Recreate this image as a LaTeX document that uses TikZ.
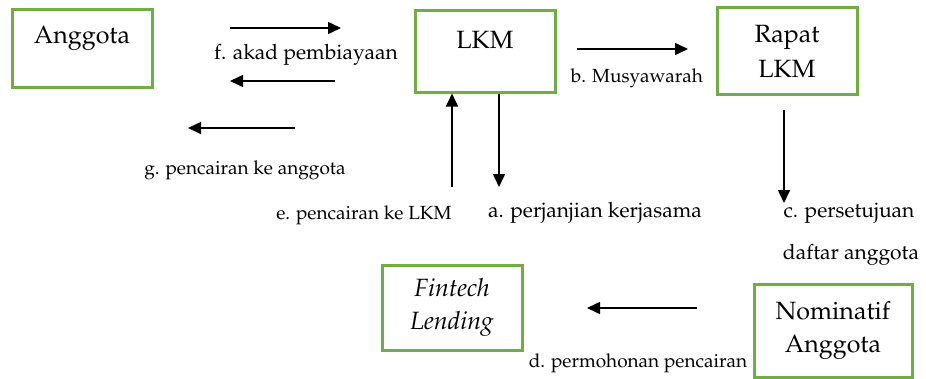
\documentclass[tikz,border=0pt]{standalone}
\usepackage[T1]{fontenc}
\usepackage{mathpazo}
\usetikzlibrary{arrows.meta}
\definecolor{boxgreen}{RGB}{112,173,71}
\tikzset{
  box/.style={draw=boxgreen, line width=3pt, rectangle, inner sep=0pt},
  boxtext/.style={font=\fontsize{25}{33}\selectfont, inner sep=0pt, align=center},
  lab/.style={font=\fontsize{19}{22}\selectfont, inner sep=0pt},
  biglab/.style={font=\fontsize{21}{24}\selectfont, inner sep=0pt},
  arr/.style={line width=1.6pt, -{Triangle[length=13pt,width=12pt]}}
}
\begin{document}
\begin{tikzpicture}[x=1pt,y=-1pt]
\useasboundingbox (0,0) rectangle (926,378);
% boxes
\node[box, minimum width=140pt, minimum height=78pt] (ang) at (82,48) {};
\node[boxtext] (angt) at (82,38) {Anggota};
\node[box, minimum width=140pt, minimum height=82pt] (lkm) at (485,51) {};
\node[boxtext] (lkmt) at (485,40) {LKM};
\node[box, minimum width=140pt, minimum height=87pt] (rap) at (787,50.5) {};
\node[boxtext, font=\fontsize{25}{35}\selectfont] (rapt) at (787,51) {Rapat\\LKM};
\node[box, minimum width=140pt, minimum height=85pt] (fin) at (452,307.5) {};
\node[boxtext] (fint) at (452,307) {\itshape Fintech\\\itshape Lending};
\node[box, minimum width=158pt, minimum height=93pt] (nom) at (833,330.5) {};
\node[boxtext] (nomt) at (833,330) {Nominatif\\Anggota};
% arrow endpoints
\coordinate (f1s) at (230,28); \coordinate (f1e) at (341,28);
\coordinate (f2s) at (335,81); \coordinate (f2e) at (230,81);
\coordinate (gs) at (295,128); \coordinate (ge) at (188,128);
\coordinate (es) at (452,187);
\coordinate (ae) at (499,187);
\coordinate (bs) at (577,49); \coordinate (be) at (688,49);
\coordinate (cs) at (784,110); \coordinate (ce) at (784,203);
\coordinate (ds) at (697,308); \coordinate (de) at (587,308);
\draw[arr] (f1s) -- (f1e);
\draw[arr] (f2s) -- (f2e);
\draw[arr] (gs) -- (ge);
\draw[arr] (es) -- (es |- lkm.south);
\draw[arr] (ae |- lkm.south) -- (ae);
\draw[arr] (bs) -- (be);
\draw[arr] (cs) -- (ce);
\draw[arr] (ds) -- (de);
% labels
\node[biglab] (fl) at (306,55) {f. akad pembiayaan};
\node[lab] (gl) at (245,170) {g. pencairan ke anggota};
\node[lab] (el) at (364,215) {e. pencairan ke LKM};
\node[biglab] (al) at (595,213) {a. perjanjian kerjasama};
\node[lab] (bl) at (637,78) {b. Musyawarah};
\node[biglab] (cl) at (849,213) {c. persetujuan};
\node[biglab] (dal) at (851,255) {daftar anggota};
\node[lab] (dl) at (638,363) {d. permohonan pencairan};
\end{tikzpicture}
\end{document}
